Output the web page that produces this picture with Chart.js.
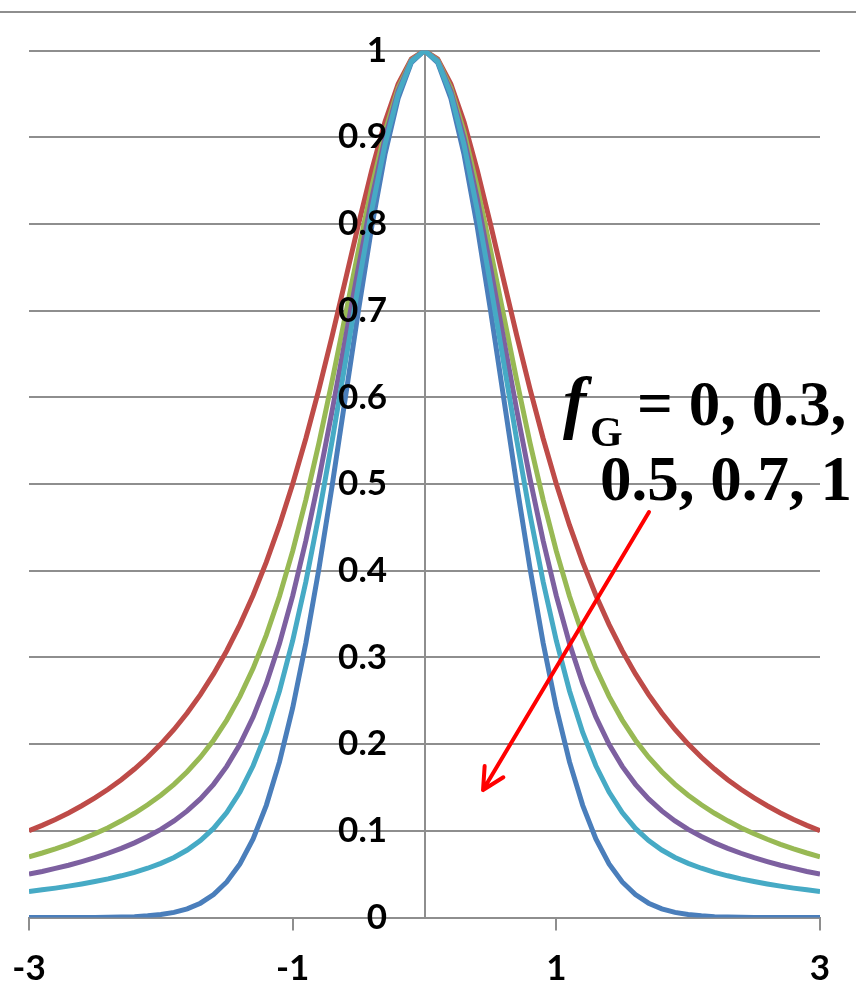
<!DOCTYPE html>
<html>
<head>
<meta charset="utf-8">
<script src="https://cdn.jsdelivr.net/npm/chart.js@4.4.1/dist/chart.umd.min.js"></script>
<style>
html,body{margin:0;padding:0;background:#fff;}
#wrap{width:856px;height:985px;position:relative;}
</style>
</head>
<body>
<div id="wrap"><canvas id="c" width="856" height="985"></canvas></div>
<script>
// x positions
const xValues = [-3.0,-2.9,-2.8,-2.7,-2.6,-2.5,-2.4,-2.3,-2.2,-2.1,-2.0,-1.9,-1.8,-1.7,-1.6,-1.5,-1.4,-1.3,-1.2,-1.1,-1.0,-0.9,-0.8,-0.7,-0.6,-0.5,-0.4,-0.3,-0.2,-0.1,0.0,0.1,0.2,0.3,0.4,0.5,0.6,0.7,0.8,0.9,1.0,1.1,1.2,1.3,1.4,1.5,1.6,1.7,1.8,1.9,2.0,2.1,2.2,2.3,2.4,2.5,2.6,2.7,2.8,2.9,3.0];

// fG = 0 (red)
const seriesFG0 = [0.1000,0.1063,0.1131,0.1206,0.1289,0.1379,0.1479,0.1590,0.1712,0.1848,0.2000,0.2169,0.2358,0.2571,0.2809,0.3077,0.3378,0.3717,0.4098,0.4525,0.5000,0.5525,0.6098,0.6711,0.7353,0.8000,0.8621,0.9174,0.9615,0.9901,1.0000,0.9901,0.9615,0.9174,0.8621,0.8000,0.7353,0.6711,0.6098,0.5525,0.5000,0.4525,0.4098,0.3717,0.3378,0.3077,0.2809,0.2571,0.2358,0.2169,0.2000,0.1848,0.1712,0.1590,0.1479,0.1379,0.1289,0.1206,0.1131,0.1063,0.1000];
// fG = 0.3 (green)
const seriesFG03 = [0.0700,0.0744,0.0792,0.0844,0.0902,0.0966,0.1036,0.1115,0.1202,0.1300,0.1410,0.1536,0.1681,0.1849,0.2045,0.2277,0.2550,0.2874,0.3257,0.3706,0.4225,0.4817,0.5477,0.6194,0.6946,0.7704,0.8425,0.9062,0.9565,0.9888,1.0000,0.9888,0.9565,0.9062,0.8425,0.7704,0.6946,0.6194,0.5477,0.4817,0.4225,0.3706,0.3257,0.2874,0.2550,0.2277,0.2045,0.1849,0.1681,0.1536,0.1410,0.1300,0.1202,0.1115,0.1036,0.0966,0.0902,0.0844,0.0792,0.0744,0.0700];
// fG = 0.5 (purple)
const seriesFG05 = [0.0500,0.0531,0.0566,0.0603,0.0645,0.0690,0.0741,0.0798,0.0861,0.0934,0.1017,0.1114,0.1229,0.1368,0.1536,0.1743,0.1998,0.2312,0.2696,0.3159,0.3709,0.4345,0.5064,0.5849,0.6675,0.7506,0.8294,0.8987,0.9532,0.9880,1.0000,0.9880,0.9532,0.8987,0.8294,0.7506,0.6675,0.5849,0.5064,0.4345,0.3709,0.3159,0.2696,0.2312,0.1998,0.1743,0.1536,0.1368,0.1229,0.1114,0.1017,0.0934,0.0861,0.0798,0.0741,0.0690,0.0645,0.0603,0.0566,0.0531,0.0500];
// fG = 0.7 (cyan)
const seriesFG07 = [0.0300,0.0319,0.0339,0.0362,0.0387,0.0415,0.0446,0.0481,0.0521,0.0568,0.0624,0.0692,0.0778,0.0887,0.1027,0.1210,0.1446,0.1750,0.2135,0.2613,0.3192,0.3873,0.4650,0.5504,0.6404,0.7308,0.8164,0.8913,0.9498,0.9872,1.0000,0.9872,0.9498,0.8913,0.8164,0.7308,0.6404,0.5504,0.4650,0.3873,0.3192,0.2613,0.2135,0.1750,0.1446,0.1210,0.1027,0.0887,0.0778,0.0692,0.0624,0.0568,0.0521,0.0481,0.0446,0.0415,0.0387,0.0362,0.0339,0.0319,0.0300];
// fG = 1 (blue)
const seriesFG1 = [0.0000,0.0000,0.0000,0.0000,0.0001,0.0001,0.0003,0.0006,0.0010,0.0019,0.0034,0.0059,0.0100,0.0165,0.0264,0.0410,0.0618,0.0907,0.1294,0.1794,0.2417,0.3166,0.4030,0.4987,0.5998,0.7012,0.7968,0.8800,0.9448,0.9859,1.0000,0.9859,0.9448,0.8800,0.7968,0.7012,0.5998,0.4987,0.4030,0.3166,0.2417,0.1794,0.1294,0.0907,0.0618,0.0410,0.0264,0.0165,0.0100,0.0059,0.0034,0.0019,0.0010,0.0006,0.0003,0.0001,0.0001,0.0000,0.0000,0.0000,0.0000];

const seriesNames = ['fG = 0.7','fG = 0.5','fG = 0.3','fG = 0','fG = 1'];
const xTickValues = [-3,-1,1,3];
const xTickLabels = ['-3','-1','1','3'];
const yTickValues = [0,0.1,0.2,0.3,0.4,0.5,0.6,0.7,0.8,0.9,1];
const yTickLabels = ['0','0.1','0.2','0.3','0.4','0.5','0.6','0.7','0.8','0.9','1'];

const seriesList = [seriesFG07, seriesFG05, seriesFG03, seriesFG0, seriesFG1];
const seriesColors = ['#46AAC5','#7D60A0','#98B954','#BE4B48','#4A7EBB'];

const GRID = '#8e8e8e';
const tickFont = {family:'Lato', weight:'bold', size:35};

const annotPlugin = {
  id:'annot',
  beforeDraw(chart){
    const ctx = chart.ctx;
    ctx.save();
    ctx.fillStyle = '#fff';
    ctx.fillRect(0,0,chart.width,chart.height);
    ctx.strokeStyle = GRID;
    ctx.lineWidth = 2;
    ctx.beginPath();
    ctx.moveTo(0,12);
    ctx.lineTo(chart.width,12);
    ctx.stroke();
    ctx.restore();
  },
  afterDatasetsDraw(chart){
    const ctx = chart.ctx;
    const xs = chart.scales.x, ys = chart.scales.y;
    ctx.save();
    // arrow
    const x1 = xs.getPixelForValue(1.703), y1 = ys.getPixelForValue(0.4676);
    const x2 = xs.getPixelForValue(0.444), y2 = ys.getPixelForValue(0.147);
    ctx.strokeStyle = '#ff0000';
    ctx.lineWidth = 4;
    ctx.lineCap = 'round';
    ctx.lineJoin = 'round';
    ctx.beginPath();
    ctx.moveTo(x1,y1);
    ctx.lineTo(x2,y2);
    const ang = Math.atan2(y1-y2, x1-x2);
    const hl = 24, ha = 27*Math.PI/180;
    ctx.moveTo(x2 + hl*Math.cos(ang-ha), y2 + hl*Math.sin(ang-ha));
    ctx.lineTo(x2,y2);
    ctx.lineTo(x2 + hl*Math.cos(ang+ha), y2 + hl*Math.sin(ang+ha));
    ctx.stroke();
    // text
    ctx.fillStyle = '#000';
    ctx.textBaseline = 'alphabetic';
    ctx.textAlign = 'left';
    ctx.font = 'italic bold 70px "Liberation Serif"';
    ctx.fillText('f', 563, 425);
    ctx.font = 'bold 42px "Liberation Serif"';
    ctx.fillText('G', 590, 446);
    ctx.font = 'bold 63px "Liberation Serif"';
    ctx.fillText('= 0, 0.3,', 637, 425);
    ctx.fillText('0.5, 0.7, 1', 600, 500);
    ctx.restore();
  }
};

new Chart(document.getElementById('c'), {
  type:'line',
  data:{
    datasets: seriesList.map((arr,i)=>({
      label: seriesNames[i],
      data: xValues.map((x,j)=>({x:x, y:arr[j]})),
      yAxisID:'y',
      borderColor: seriesColors[i],
      backgroundColor: seriesColors[i],
      borderWidth: 5,
      pointRadius: 0,
      tension: 0,
      fill: false
    }))
  },
  options:{
    responsive:false,
    animation:false,
    layout:{padding:{left:29, right:36, top:50.5, bottom:0}},
    plugins:{legend:{display:false}, tooltip:{enabled:false}},
    scales:{
      x:{
        type:'linear', min:-3, max:3,
        afterBuildTicks:(s)=>{ s.ticks = xTickValues.map(v=>({value:v})); },
        afterFit:(s)=>{ s.height = 67.5; s.paddingLeft = 0; s.paddingRight = 0; },
        grid:{drawOnChartArea:false, drawTicks:true, tickLength:13, color:GRID, lineWidth:2},
        border:{display:true, color:GRID, width:2},
        ticks:{font:tickFont, color:'#000', padding:17, maxRotation:0, autoSkip:false,
               callback:(v,i)=>xTickLabels[i]}
      },
      y:{
        type:'linear', min:0, max:1,
        position:{x:0},
        afterBuildTicks:(s)=>{ s.ticks = yTickValues.map(v=>({value:v})); },
        afterFit:(s)=>{ s.paddingTop = 0; s.paddingBottom = 0; },
        grid:{color:GRID, lineWidth:2, drawTicks:false},
        border:{display:true, color:GRID, width:2},
        ticks:{display:false}
      },
      yLabels:{
        type:'linear', min:0, max:1,
        position:{x:-0.2845},
        afterBuildTicks:(s)=>{ s.ticks = yTickValues.map(v=>({value:v})); },
        afterFit:(s)=>{ s.paddingTop = 0; s.paddingBottom = 0; },
        grid:{display:false, drawTicks:false},
        border:{display:false},
        ticks:{z:1, font:tickFont, color:'#000', padding:0, autoSkip:false,
               callback:(v,i)=>yTickLabels[i]}
      }
    }
  },
  plugins:[annotPlugin]
});
</script>
</body>
</html>
